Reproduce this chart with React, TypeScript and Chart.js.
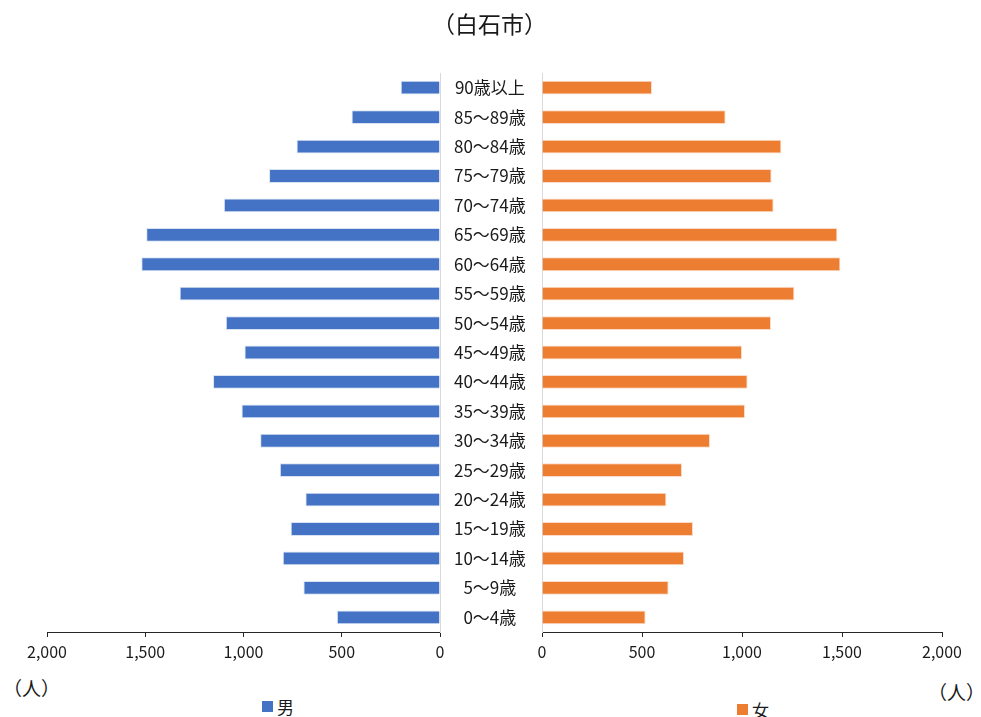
import React, { useEffect, useRef } from "react";
import { Chart, registerables } from "chart.js";

Chart.register(...registerables);

// Age groups, listed top to bottom as drawn
const ageGroups: string[] = [
  "90歳以上",
  "85～89歳",
  "80～84歳",
  "75～79歳",
  "70～74歳",
  "65～69歳",
  "60～64歳",
  "55～59歳",
  "50～54歳",
  "45～49歳",
  "40～44歳",
  "35～39歳",
  "30～34歳",
  "25～29歳",
  "20～24歳",
  "15～19歳",
  "10～14歳",
  "5～9歳",
  "0～4歳",
];

const maleCounts: number[] = [
  200, 450, 730, 870, 1100, 1495, 1520, 1325, 1090, 995, 1155, 1010, 915, 815, 685, 760, 800, 695, 525,
];

const femaleCounts: number[] = [
  550, 918, 1197, 1148, 1158, 1477, 1492, 1262, 1145, 1000, 1028, 1015, 840, 700, 622, 755, 710, 633, 518,
];

const axisMax = 2000;
const axisStep = 500;

const FONT = "'Noto Sans CJK JP', 'Noto Sans', sans-serif";
const TEXT_COLOR = "#1a1a1a";
const MALE_COLOR = "#4472C4";
const FEMALE_COLOR = "#ED7D31";
const AXIS_COLOR = "#262626";
const CENTER_LINE = "#d9d9d9";

const formatCount = (v: number | string) => Number(v).toLocaleString("en-US");

function xAxis(reverse: boolean) {
  return {
    type: "linear" as const,
    min: 0,
    max: axisMax,
    reverse,
    ticks: {
      stepSize: axisStep,
      color: TEXT_COLOR,
      font: { family: FONT, size: 16 },
      padding: 5,
      callback: (v: number | string) => formatCount(v),
    },
    grid: {
      drawOnChartArea: false,
      drawTicks: true,
      tickLength: 5,
      color: AXIS_COLOR,
    },
    border: { display: true, color: AXIS_COLOR, width: 1 },
    afterFit: (scale: any) => {
      scale.height = 40;
    },
  };
}

export default function App() {
  const leftRef = useRef<HTMLCanvasElement | null>(null);
  const rightRef = useRef<HTMLCanvasElement | null>(null);

  useEffect(() => {
    document.body.style.margin = "0";
    if (!leftRef.current || !rightRef.current) return;

    const male = new Chart(leftRef.current, {
      type: "bar",
      data: {
        labels: ageGroups,
        datasets: [
          {
            label: "男",
            data: maleCounts,
            backgroundColor: MALE_COLOR,
            borderColor: "rgba(200,215,240,0.7)",
            borderWidth: 1,
            barPercentage: 0.47,
            categoryPercentage: 1,
          },
        ],
      },
      options: {
        indexAxis: "y",
        responsive: false,
        animation: false,
        layout: { padding: { left: 47, right: 0, top: 73, bottom: 0 } },
        plugins: { legend: { display: false }, tooltip: { enabled: false } },
        scales: {
          x: xAxis(true),
          y: {
            position: "right",
            grid: { display: false, drawTicks: false },
            border: { display: true, color: CENTER_LINE, width: 1 },
            ticks: {
              crossAlign: "center",
              padding: 14,
              color: TEXT_COLOR,
              font: { family: FONT, size: 17 },
            },
            afterFit: (scale: any) => {
              scale.width = 102;
            },
          },
        },
      },
    });

    const female = new Chart(rightRef.current, {
      type: "bar",
      data: {
        labels: ageGroups,
        datasets: [
          {
            label: "女",
            data: femaleCounts,
            backgroundColor: FEMALE_COLOR,
            borderColor: "rgba(250,205,180,0.7)",
            borderWidth: 1,
            barPercentage: 0.47,
            categoryPercentage: 1,
          },
        ],
      },
      options: {
        indexAxis: "y",
        responsive: false,
        animation: false,
        layout: { padding: { left: 42, right: 39, top: 73, bottom: 0 } },
        plugins: { legend: { display: false }, tooltip: { enabled: false } },
        scales: {
          x: xAxis(false),
          y: {
            position: "left",
            grid: { display: false, drawTicks: false },
            border: { display: true, color: CENTER_LINE, width: 1 },
            ticks: { display: false },
            afterFit: (scale: any) => {
              scale.width = 0;
            },
          },
        },
      },
    });

    return () => {
      male.destroy();
      female.destroy();
    };
  }, []);

  const text: React.CSSProperties = {
    position: "absolute",
    fontFamily: FONT,
    color: TEXT_COLOR,
    whiteSpace: "nowrap",
    lineHeight: 1,
  };

  return (
    <div style={{ position: "relative", width: 981, height: 717, background: "#fff", overflow: "hidden" }}>
      <canvas ref={leftRef} width={542} height={672} style={{ position: "absolute", left: 0, top: 0 }} />
      <canvas ref={rightRef} width={481} height={672} style={{ position: "absolute", left: 500, top: 0 }} />

      <div style={{ ...text, left: 0, width: 981, top: 12, textAlign: "center", fontSize: 23 }}>
        <span style={{ display: "inline-block", transform: "translateX(-1px)" }}>（白石市）</span>
      </div>

      <div style={{ ...text, left: 3, top: 678, fontSize: 19 }}>（人）</div>
      <div style={{ ...text, left: 928, top: 682, fontSize: 19 }}>（人）</div>

      <div style={{ position: "absolute", left: 262, top: 701, width: 11, height: 11, background: MALE_COLOR }} />
      <div style={{ ...text, left: 277, top: 698, fontSize: 17 }}>男</div>

      <div style={{ position: "absolute", left: 737, top: 704, width: 11, height: 11, background: FEMALE_COLOR }} />
      <div style={{ ...text, left: 752, top: 701, fontSize: 17 }}>女</div>
    </div>
  );
}
